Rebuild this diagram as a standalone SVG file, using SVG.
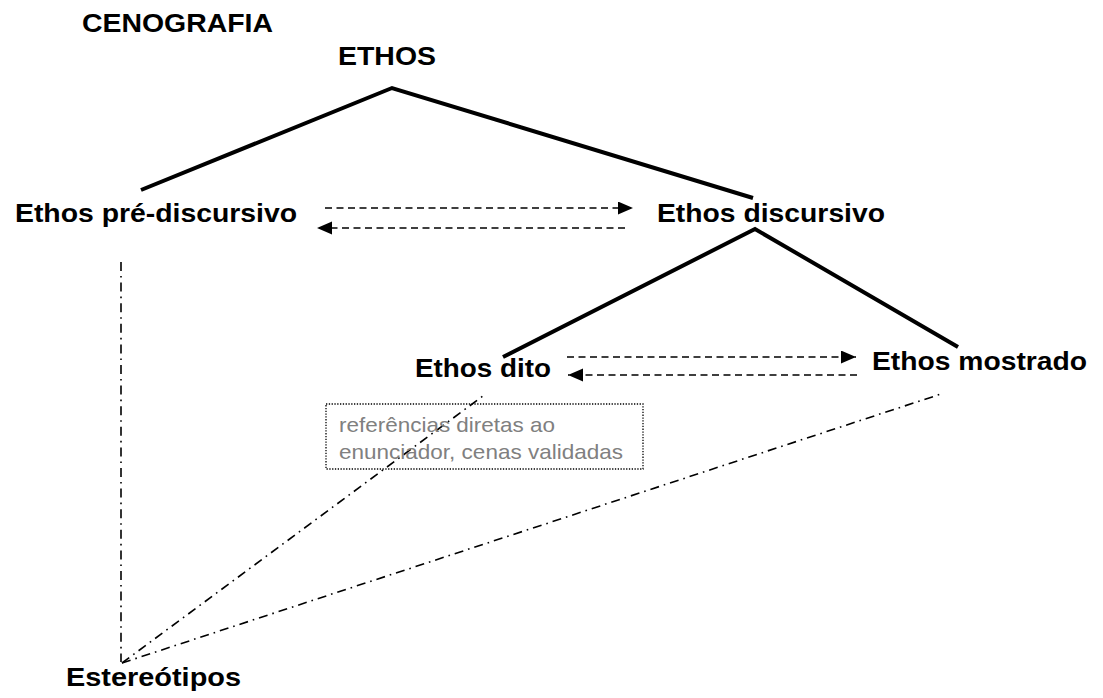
<svg xmlns="http://www.w3.org/2000/svg" width="1103" height="698" viewBox="0 0 1103 698">
  <style>
    .lbl { font-family: "Liberation Sans", Arial, sans-serif; font-weight: bold; font-size: 26.5px; fill: #000; }
    .note { font-family: "Liberation Sans", Arial, sans-serif; font-size: 21px; fill: #808080; }
    .solid { stroke: #000; stroke-width: 4; fill: none; stroke-linecap: butt; }
    .dash { stroke: #000; stroke-width: 1.6; fill: none; stroke-dasharray: 7 4.5; }
    .dashdot { stroke: #000; stroke-width: 1.6; fill: none; stroke-dasharray: 9 5 1.6 5; }
    .box { stroke: #000; stroke-width: 1.3; fill: none; stroke-dasharray: 1.3 1.5; }
  </style>
  <defs>
    <marker id="arr" markerUnits="userSpaceOnUse" markerWidth="16" markerHeight="14" refX="15" refY="6.5" orient="auto">
      <path d="M0,0 L15,6.5 L0,13 z" fill="#000"/>
    </marker>
  </defs>
  <rect width="1103" height="698" fill="#fff"/>

  <g id="connectors">
    <polyline class="solid" points="141,190 392,88 753,198"/>
    <polyline class="solid" points="503,357 755,229 958,347"/>
    <line class="dash" x1="325" y1="208" x2="633" y2="208" marker-end="url(#arr)"/>
    <line class="dash" x1="625" y1="228" x2="317" y2="228" marker-end="url(#arr)"/>
    <line class="dash" x1="567" y1="357" x2="856" y2="357" marker-end="url(#arr)"/>
    <line class="dash" x1="857" y1="375" x2="568" y2="375" marker-end="url(#arr)"/>
    <line class="dashdot" x1="121" y1="262" x2="121" y2="662"/>
    <line class="dashdot" x1="122" y1="663" x2="483" y2="396"/>
    <line class="dashdot" x1="122" y1="663" x2="941" y2="394"/>
  </g>

  <g id="cenografia"><text class="lbl" x="82" y="32" textLength="191" lengthAdjust="spacingAndGlyphs">CENOGRAFIA</text></g>
  <g id="ethos"><text class="lbl" x="338" y="65" textLength="98" lengthAdjust="spacingAndGlyphs">ETHOS</text></g>
  <g id="ethos-pre"><text class="lbl" x="15" y="222" textLength="282" lengthAdjust="spacingAndGlyphs">Ethos pré-discursivo</text></g>
  <g id="ethos-discursivo"><text class="lbl" x="657" y="222" textLength="228" lengthAdjust="spacingAndGlyphs">Ethos discursivo</text></g>
  <g id="ethos-dito"><text class="lbl" x="415" y="377" textLength="136" lengthAdjust="spacingAndGlyphs">Ethos dito</text></g>
  <g id="ethos-mostrado"><text class="lbl" x="872" y="370" textLength="215" lengthAdjust="spacingAndGlyphs">Ethos mostrado</text></g>
  <g id="estereotipos"><text class="lbl" x="66" y="686" textLength="175" lengthAdjust="spacingAndGlyphs">Estereótipos</text></g>
  <g id="nota">
    <rect class="box" x="326" y="404" width="317" height="65"/>
    <text class="note" x="339" y="432" textLength="216" lengthAdjust="spacingAndGlyphs">referências diretas ao</text>
    <text class="note" x="339" y="459" textLength="284" lengthAdjust="spacingAndGlyphs">enunciador, cenas validadas</text>
  </g>
</svg>
